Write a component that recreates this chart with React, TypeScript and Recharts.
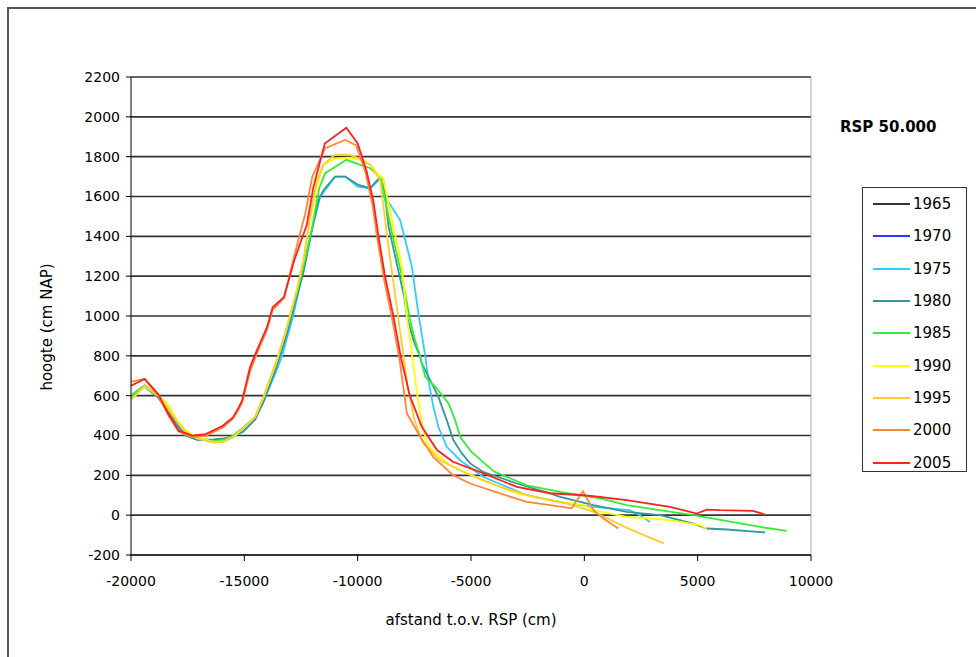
import { LineChart, Line, XAxis, YAxis, CartesianGrid, ReferenceLine } from "recharts";

const years = ["1965", "1970", "1975", "1980", "1985", "1990", "1995", "2000", "2005"];
const colors = ["#333333", "#3333ff", "#33ccff", "#339999", "#33ee33", "#ffff00", "#ffcc33", "#ff8833", "#ff2020"];

const xTicks = [-20000, -15000, -10000, -5000, 0, 5000, 10000];
const yTicks = [-200, 0, 200, 400, 600, 800, 1000, 1200, 1400, 1600, 1800, 2000, 2200];

// afstand (cm), hoogte (cm NAP)
const s1965: [number, number][] = [];
const s1970: [number, number][] = [];

const s1975: [number, number][] = [
  [-20000, 590], [-19400, 645], [-18800, 590], [-18400, 530], [-17970, 455], [-17600, 405],
  [-17090, 380], [-16360, 375], [-15920, 380], [-15480, 392], [-15040, 425], [-14520, 485],
  [-14150, 570], [-13600, 720], [-13330, 800], [-12850, 1000], [-12450, 1200], [-12100, 1400],
  [-11650, 1600], [-11360, 1642], [-11000, 1700], [-10550, 1700], [-10000, 1650], [-9450, 1640],
  [-9000, 1690], [-8700, 1583], [-8400, 1530], [-8130, 1482], [-7980, 1417], [-7610, 1248],
  [-7320, 1013], [-7020, 800], [-6880, 678], [-6660, 544], [-6440, 444], [-6070, 343],
  [-5480, 276], [-4470, 193], [-2540, 100], [-780, 59], [400, 42], [2000, 25], [2450, 0], [2900, -34],
];

const s1980: [number, number][] = [
  [-20000, 600], [-19400, 650], [-18800, 590], [-18400, 530], [-17970, 450], [-17600, 400],
  [-17090, 378], [-16360, 380], [-15920, 385], [-15480, 395], [-15040, 420], [-14520, 480],
  [-14150, 570], [-13560, 750], [-13120, 910], [-12680, 1100], [-12390, 1220], [-12000, 1440],
  [-11700, 1590], [-11500, 1633], [-11000, 1700], [-10550, 1700], [-10000, 1660], [-9450, 1642],
  [-9000, 1700], [-8860, 1680], [-8640, 1450], [-8250, 1250], [-7950, 1100], [-7830, 997],
  [-7540, 879], [-7250, 796], [-7170, 762], [-6800, 678], [-6440, 594], [-6070, 477],
  [-5780, 377], [-5400, 310], [-5040, 260], [-4470, 218], [-2980, 159], [-1510, 109],
  [-1070, 92], [400, 50], [1870, 17], [3340, 0], [4810, -42], [5400, -67], [6280, -72], [7970, -87],
];

const s1985: [number, number][] = [
  [-20000, 600], [-19400, 653], [-18800, 600], [-18400, 560], [-17970, 470], [-17600, 420],
  [-17090, 385], [-16360, 372], [-15920, 378], [-15480, 400], [-15040, 440], [-14520, 494],
  [-14150, 594], [-13560, 779], [-13120, 940], [-12680, 1120], [-12390, 1250], [-12000, 1450],
  [-11700, 1640], [-11430, 1717], [-10500, 1784], [-9890, 1759], [-9450, 1742], [-9010, 1700],
  [-8860, 1620], [-8420, 1380], [-8050, 1200], [-7690, 980], [-7470, 879], [-7240, 796],
  [-7020, 695], [-6580, 645], [-5990, 561], [-5700, 477], [-5480, 393], [-5000, 320],
  [-4000, 220], [-2540, 150], [-1070, 117], [700, 84], [1870, 50], [4810, 0], [7750, -59], [8930, -79],
];

const s1990: [number, number][] = [
  [-20000, 578], [-19400, 648], [-18800, 598], [-18400, 560], [-17970, 477], [-17600, 427],
  [-17090, 390], [-16360, 368], [-15920, 370], [-15480, 393], [-15040, 436], [-14520, 494],
  [-14150, 594], [-13560, 779], [-13120, 946], [-12680, 1131], [-12390, 1282], [-12100, 1480],
  [-11800, 1650], [-11520, 1759], [-11000, 1790], [-10400, 1795], [-9890, 1784], [-9450, 1759],
  [-9000, 1700], [-8880, 1690], [-8420, 1449], [-8050, 1248], [-7830, 997], [-7610, 813],
  [-7390, 620], [-7240, 511], [-6950, 360], [-6660, 320], [-5920, 250], [-4470, 176],
  [-2980, 109], [-1510, 75], [-40, 50], [400, 25], [1870, -8], [3780, -25], [5100, -50], [5400, -67],
];

const s1995: [number, number][] = [
  [-20000, 580], [-19400, 650], [-18800, 600], [-18400, 540], [-17970, 470], [-17600, 420],
  [-17090, 385], [-16360, 365], [-15920, 368], [-15480, 393], [-15040, 436], [-14520, 494],
  [-14150, 594], [-13560, 779], [-13120, 946], [-12680, 1131], [-12390, 1282], [-12100, 1500],
  [-11800, 1680], [-11500, 1760], [-11000, 1810], [-10400, 1810], [-9900, 1790], [-9450, 1760],
  [-9000, 1680], [-8700, 1400], [-8400, 1150], [-8100, 900], [-7800, 650], [-7500, 480],
  [-7100, 360], [-6370, 276], [-5190, 209], [-3720, 142], [-2250, 92], [-780, 59], [400, 17],
  [2000, -70], [3500, -142],
];

const s2000: [number, number][] = [
  [-20000, 670], [-19400, 684], [-18800, 600], [-18350, 500], [-17900, 420], [-17300, 392],
  [-16700, 398], [-15950, 440], [-15500, 485], [-15250, 530], [-15100, 565], [-14750, 720],
  [-14450, 810], [-14000, 930], [-13750, 1030], [-13250, 1090], [-12800, 1300], [-12300, 1520],
  [-12000, 1700], [-11430, 1843], [-10550, 1884], [-10070, 1857], [-9650, 1720], [-9350, 1560],
  [-9120, 1380], [-8830, 1180], [-8470, 980], [-8150, 780], [-7830, 511], [-7240, 394],
  [-6670, 293], [-5790, 201], [-5040, 159], [-3720, 109], [-2540, 67], [-1510, 50], [-560, 34],
  [-60, 120], [400, 25], [840, -17], [1500, -67],
];

const s2005: [number, number][] = [
  [-20000, 650], [-19400, 684], [-18800, 608], [-18350, 508], [-17900, 424], [-17300, 399],
  [-16700, 407], [-15950, 449], [-15500, 491], [-15250, 541], [-15100, 575], [-14750, 742],
  [-14450, 826], [-14000, 944], [-13750, 1044], [-13250, 1095], [-12800, 1279], [-12250, 1455],
  [-11950, 1648], [-11450, 1866], [-10500, 1945], [-10000, 1866], [-9600, 1724], [-9300, 1573],
  [-9080, 1399], [-8790, 1198], [-8420, 997], [-8100, 796], [-7700, 600], [-7170, 444],
  [-6500, 327], [-5800, 268], [-4470, 211], [-2980, 142], [-1510, 110], [-60, 100], [400, 95],
  [1870, 75], [3780, 42], [4960, 8], [5400, 28], [5980, 25], [7450, 22], [7970, 3],
];

const series = [s1965, s1970, s1975, s1980, s1985, s1990, s1995, s2000, s2005];

const font = "'DejaVu Sans', Arial, sans-serif";

function LegendBox() {
  return (
    <div
      style={{
        position: "absolute",
        left: 862,
        top: 187,
        width: 105,
        height: 285,
        border: "1.5px solid #333",
        boxSizing: "border-box",
        fontFamily: font,
        fontSize: 15,
        color: "#000",
      }}
    >
      {years.map((y, i) => (
        <div key={y} style={{ display: "flex", alignItems: "center", height: 32.3 }}>
          <div style={{ width: 37, height: 2, background: colors[i], marginLeft: 10, marginRight: 3 }} />
          <span>{y}</span>
        </div>
      ))}
    </div>
  );
}

export default function App() {
  return (
    <div style={{ position: "absolute", left: 0, top: 0, width: 976, height: 657, overflow: "hidden", background: "#fff" }}>
      <div style={{ position: "absolute", left: 0, top: 0 }}>
        <LineChart width={976} height={657} margin={{ top: 77, right: 165, bottom: 72, left: 71 }}>
          <CartesianGrid vertical={false} stroke="#333" strokeWidth={1.6} />
          <XAxis
            type="number"
            dataKey="x"
            domain={[-20000, 10000]}
            ticks={xTicks}
            allowDataOverflow
            height={30}
            tickSize={6}
            tickMargin={15}
            stroke="#000"
            tick={{ fill: "#000", fontSize: 14, fontFamily: font }}
          />
          <YAxis
            type="number"
            dataKey="y"
            domain={[-200, 2200]}
            ticks={yTicks}
            allowDataOverflow
            width={60}
            tickSize={5}
            tickMargin={6}
            stroke="#000"
            tick={{ fill: "#000", fontSize: 14, fontFamily: font }}
          />
          <ReferenceLine x={10000} stroke="#aaa" strokeWidth={1} />
          {series.map((pts, i) => (
            <Line
              key={years[i]}
              name={years[i]}
              data={pts.map(([x, y]) => ({ x, y }))}
              dataKey="y"
              stroke={colors[i]}
              strokeWidth={1.8}
              dot={false}
              activeDot={false}
              isAnimationActive={false}
            />
          ))}
        </LineChart>
      </div>
      <LegendBox />
      <div
        style={{
          position: "absolute",
          left: 840,
          top: 118,
          fontFamily: font,
          fontWeight: "bold",
          fontSize: 15,
          color: "#000",
          whiteSpace: "nowrap",
        }}
      >
        RSP 50.000
      </div>
      <div
        style={{
          position: "absolute",
          left: 471,
          top: 620,
          transform: "translate(-50%, -50%)",
          fontFamily: font,
          fontSize: 15,
          color: "#000",
          whiteSpace: "nowrap",
        }}
      >
        afstand t.o.v. RSP (cm)
      </div>
      <div
        style={{
          position: "absolute",
          left: 47,
          top: 327,
          transform: "translate(-50%, -50%) rotate(-90deg)",
          fontFamily: font,
          fontSize: 15,
          color: "#000",
          whiteSpace: "nowrap",
        }}
      >
        hoogte (cm NAP)
      </div>
      {/* outer chart frame */}
      <div style={{ position: "absolute", left: 7, top: 7, width: 969, height: 2, background: "#555" }} />
      <div style={{ position: "absolute", left: 7, top: 7, width: 2, height: 650, background: "#555" }} />
    </div>
  );
}
